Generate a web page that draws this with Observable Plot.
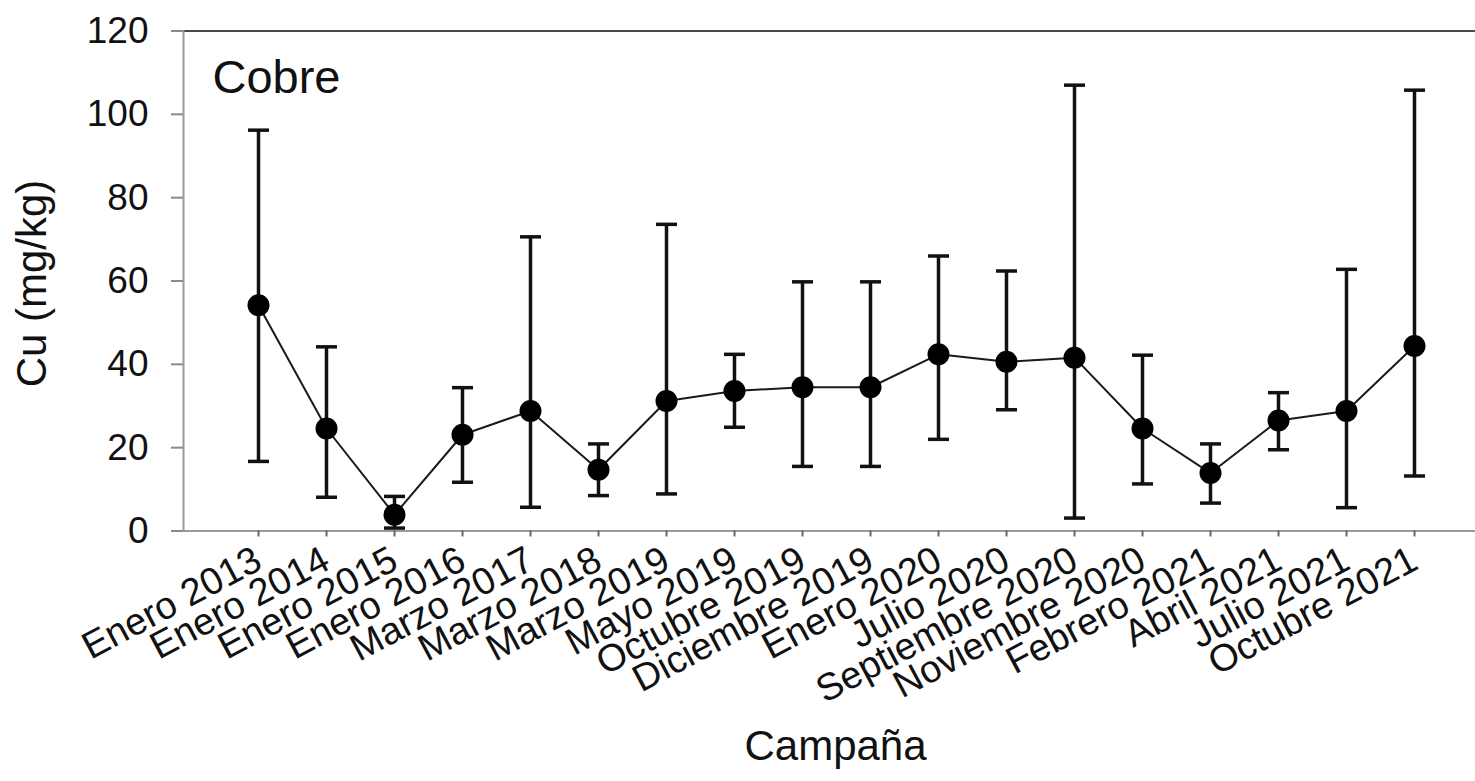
<!DOCTYPE html>
<html>
<head>
<meta charset="utf-8">
<script src="https://cdn.jsdelivr.net/npm/d3@7"></script>
<script src="https://cdn.jsdelivr.net/npm/@observablehq/plot@0.6"></script>
<style>
  html, body { margin: 0; padding: 0; background: #fff; }
  #chart svg { display: block; }
</style>
</head>
<body>
<div id="chart"></div>
<script>
const categories = [
  "Enero 2013", "Enero 2014", "Enero 2015", "Enero 2016", "Marzo 2017",
  "Marzo 2018", "Marzo 2019", "Mayo 2019", "Octubre 2019", "Diciembre 2019",
  "Enero 2020", "Julio 2020", "Septiembre 2020", "Noviembre 2020",
  "Febrero 2021", "Abril 2021", "Julio 2021", "Octubre 2021"
];
const means = [54.2, 24.6, 3.9, 23.1, 28.8, 14.7, 31.2, 33.6, 34.5, 34.5, 42.4, 40.6, 41.6, 24.6, 13.9, 26.5, 28.8, 44.4];
const lower = [16.7, 8.1, 0.7, 11.7, 5.7, 8.5, 8.9, 24.9, 15.5, 15.5, 22.0, 29.1, 3.1, 11.3, 6.7, 19.5, 5.6, 13.2];
const upper = [96.2, 44.2, 8.3, 34.4, 70.6, 20.9, 73.6, 42.4, 59.8, 59.8, 66.0, 62.4, 107.0, 42.2, 20.9, 33.2, 62.8, 105.8];
const yTicks = [0, 20, 40, 60, 80, 100, 120];
const panelLabel = "Cobre";
const xTitle = "Campaña";
const yTitle = "Cu (mg/kg)";

const data = categories.map((c, i) => ({campaign: c, mean: means[i], lo: lower[i], hi: upper[i]}));

const font = "'Liberation Sans', Arial, Helvetica, sans-serif";

// horizontal cap symbol for the error bars
const capSymbol = {
  draw(context, size) {
    const w = 10.5;
    context.moveTo(-w, 0);
    context.lineTo(w, 0);
  }
};

const chart = Plot.plot({
  width: 1475,
  height: 781,
  marginLeft: 183,
  marginRight: 0,
  marginTop: 30.5,
  marginBottom: 250.5,
  style: {fontFamily: font, background: "#fff", color: "#111", overflow: "visible"},
  x: {type: "point", domain: categories, range: [253.3, 1419.3], padding: 0},
  y: {domain: [0, 120]},
  marks: [
    Plot.ruleY([120], {stroke: "#4a4a4a", strokeWidth: 2, insetLeft: -12}),
    Plot.ruleY([0], {stroke: "#9a9a9a", strokeWidth: 2, insetLeft: -12}),
    Plot.frame({anchor: "left", stroke: "#9a9a9a", strokeWidth: 2}),
    Plot.axisY({ticks: yTicks, tickSize: 12, tickPadding: 23, fontSize: 37, stroke: "#8a8a8a", strokeWidth: 2, fill: "#111", label: null}),
    Plot.axisX({tickSize: 6, tickPadding: 20, tickRotate: -28, fontSize: 38, stroke: "#666", strokeWidth: 2, fill: "#111", label: null}),
    Plot.line(data, {x: "campaign", y: "mean", stroke: "#1a1a1a", strokeWidth: 2}),
    Plot.ruleX(data, {x: "campaign", y1: "lo", y2: "hi", stroke: "#111", strokeWidth: 3.5}),
    Plot.dot(data, {x: "campaign", y: "hi", symbol: capSymbol, r: 5, fill: "none", stroke: "#111", strokeWidth: 3.5}),
    Plot.dot(data, {x: "campaign", y: "lo", symbol: capSymbol, r: 5, fill: "none", stroke: "#111", strokeWidth: 3.5}),
    Plot.dot(data, {x: "campaign", y: "mean", r: 11, fill: "#000", stroke: "none"}),
    Plot.text([panelLabel], {frameAnchor: "top-left", dx: 29, dy: 29, fontSize: 47, fill: "#111"}),
    Plot.text([xTitle], {frameAnchor: "bottom", lineAnchor: "middle", dx: 6, dy: 216, fontSize: 42, fill: "#111"}),
    Plot.text([yTitle], {frameAnchor: "left", textAnchor: "middle", lineAnchor: "middle", rotate: -90, dx: -150.5, dy: 2.5, fontSize: 42, fill: "#111"})
  ]
});
document.getElementById("chart").appendChild(chart);
</script>
</body>
</html>
